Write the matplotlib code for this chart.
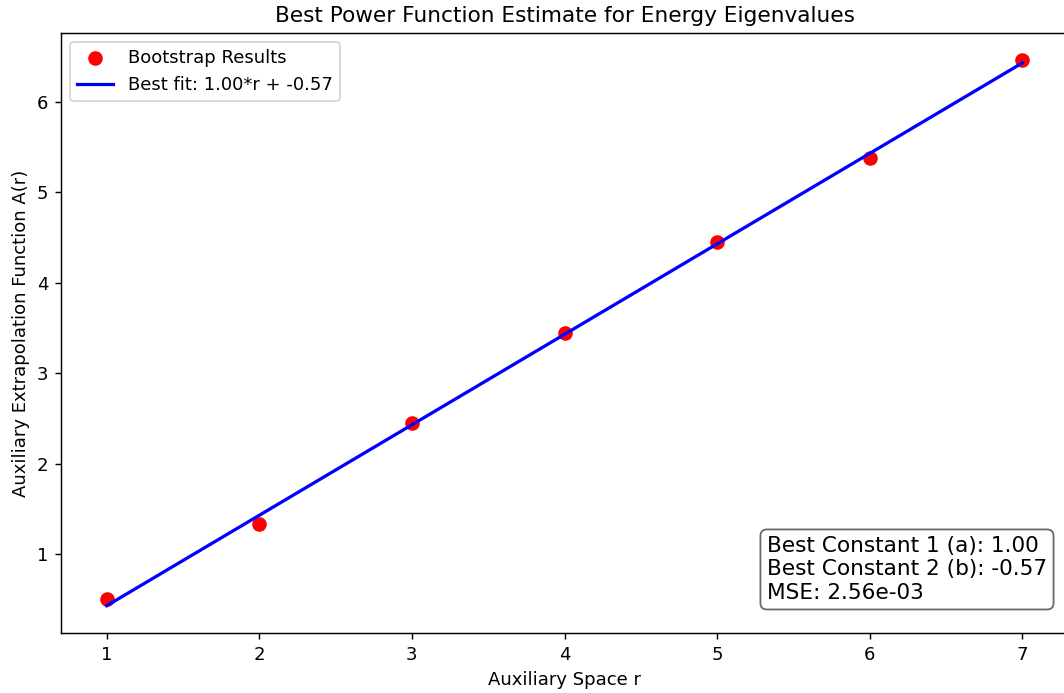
import numpy as np
import matplotlib.pyplot as plt

r_values = [1, 2, 3, 4, 5, 6, 7]
a_values = [0.50, 1.33, 2.45, 3.45, 4.45, 5.38, 6.46]
best_a = 1.00
best_b = -0.57
mse = 2.56e-03

fig = plt.figure(figsize=(1064 / 130, 693 / 130), dpi=130)
ax = fig.add_axes([0.0573, 0.0866, 0.9465, 0.8658])

ax.scatter(r_values, a_values, color='red', s=50, label='Bootstrap Results')
r = np.array(r_values)
ax.plot(r, best_a * r + best_b, color='blue', linewidth=1.8,
        label=f'Best fit: {best_a:.2f}*r + {best_b:.2f}')

ax.set_title('Best Power Function Estimate for Energy Eigenvalues', fontsize=12)
ax.set_xlabel('Auxiliary Space r')
ax.set_ylabel('Auxiliary Extrapolation Function A(r)')
ax.legend(loc='upper left')

text = (f'Best Constant 1 (a): {best_a:.2f}\n'
        f'Best Constant 2 (b): {best_b:.2f}\n'
        f'MSE: {mse:.2e}')
ax.text(0.701, 0.05, text, transform=ax.transAxes, fontsize=12,
        ha='left', va='bottom', linespacing=1.22,
        bbox=dict(boxstyle='round', facecolor='white', edgecolor='0.35', alpha=0.9))

fig.savefig('out.png', dpi=130)
